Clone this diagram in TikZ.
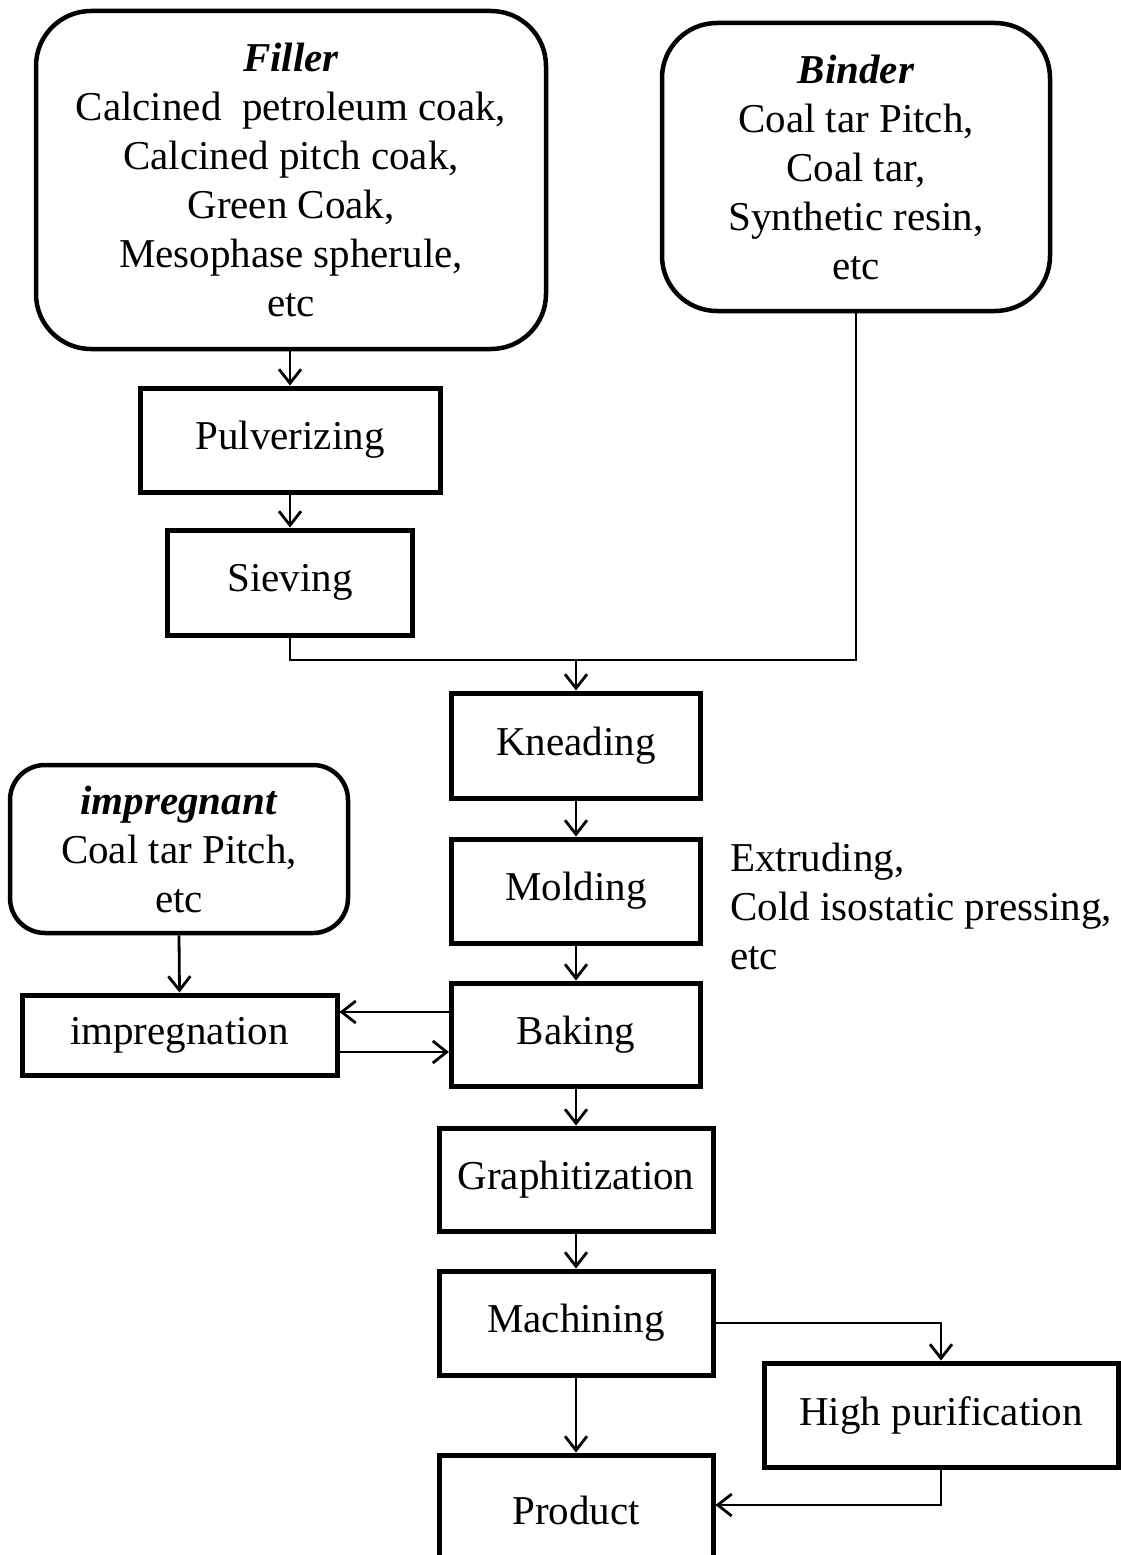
\documentclass[tikz,border=0pt]{standalone}
\usepackage{fontspec}
\setmainfont{Liberation Serif}
\usetikzlibrary{arrows.meta}
\newcommand\bigfnt{\fontsize{41}{49}\selectfont}
\begin{document}
\begin{tikzpicture}[x=1pt,y=-1pt,
  stepbox/.style={draw, line width=5pt, inner sep=0pt, font=\bigfnt, align=center},
  roundbox/.style={draw, line width=4.5pt, inner sep=0pt, font=\bigfnt, align=center, rounded corners=55pt},
  conn/.style={line width=2.8pt},
  arr/.style={line width=2.8pt, -{Straight Barb[length=14pt,width=22pt]}},
  note/.style={font=\bigfnt, align=left, inner sep=0pt, anchor=west}]
\clip (0,0) rectangle (1121,1555);
\fill[white] (0,0) rectangle (1121,1555);

\node[roundbox, minimum width=510pt, minimum height=338pt] (filler) at (291,180)
  {\textbf{\textit{Filler}}\\Calcined~~petroleum coak,\\Calcined pitch coak,\\Green Coak,\\Mesophase spherule,\\etc};
\node[roundbox, minimum width=388pt, minimum height=288pt] (binder) at (856,167)
  {\textbf{\textit{Binder}}\\Coal tar Pitch,\\Coal tar,\\Synthetic resin,\\etc};
\node[stepbox, minimum width=300pt, minimum height=104pt] (pulv) at (290,440) {Pulverizing};
\node[stepbox, minimum width=245pt, minimum height=105pt] (siev) at (290,582.5) {Sieving};
\node[stepbox, minimum width=249pt, minimum height=105pt] (knead) at (576,745.5) {Kneading};
\node[stepbox, minimum width=249pt, minimum height=104pt] (mold) at (576,891) {Molding};
\node[stepbox, minimum width=249pt, minimum height=103pt] (bake) at (576,1034.5) {Baking};
\node[stepbox, minimum width=274pt, minimum height=103pt] (graph) at (576,1179.5) {Graphitization};
\node[stepbox, minimum width=274pt, minimum height=104pt] (mach) at (576,1323) {Machining};
\node[stepbox, minimum width=274pt, minimum height=110pt] (prod) at (576,1510) {Product};
\node[stepbox, minimum width=354pt, minimum height=104pt] (hp) at (941,1415) {High purification};
\node[roundbox, rounded corners=35pt, minimum width=338pt, minimum height=168pt] (imp) at (179,849)
  {\textbf{\textit{impregnant}}\\Coal tar Pitch,\\etc};
\node[stepbox, minimum width=315pt, minimum height=80pt] (impg) at (179.5,1035) {impregnation};
\node[note] (moldnote) at (730,906) {Extruding,\\Cold isostatic pressing,\\etc};

\coordinate (join) at (576,660);
\draw[arr] (filler.south -| pulv.north) -- (pulv.north);
\draw[arr] (pulv.south) -- (siev.north);
\draw[conn] (siev.south) |- (join);
\draw[conn, line width=2.4pt] (binder.south) |- (join);
\draw[arr] (join) -- (knead.north);
\draw[arr] (knead.south) -- (mold.north);
\draw[arr] (mold.south) -- (bake.north);
\draw[arr] (bake.south) -- (graph.north);
\draw[arr] (graph.south) -- (mach.north);
\draw[arr] (mach.south) -- (prod.north);
\draw[arr] (mach.east) -| (hp.north);
\draw[arr] (hp.south) |- ([yshift=5pt]prod.east);
\draw[arr] (imp.south) -- (impg.north);
\draw[arr] ([yshift=22.5pt]bake.west) -- ([yshift=22.5pt]bake.west -| impg.east);
\draw[arr] ([yshift=-17pt]impg.east) -- ([yshift=-17pt]impg.east -| bake.west);
\end{tikzpicture}
\end{document}
